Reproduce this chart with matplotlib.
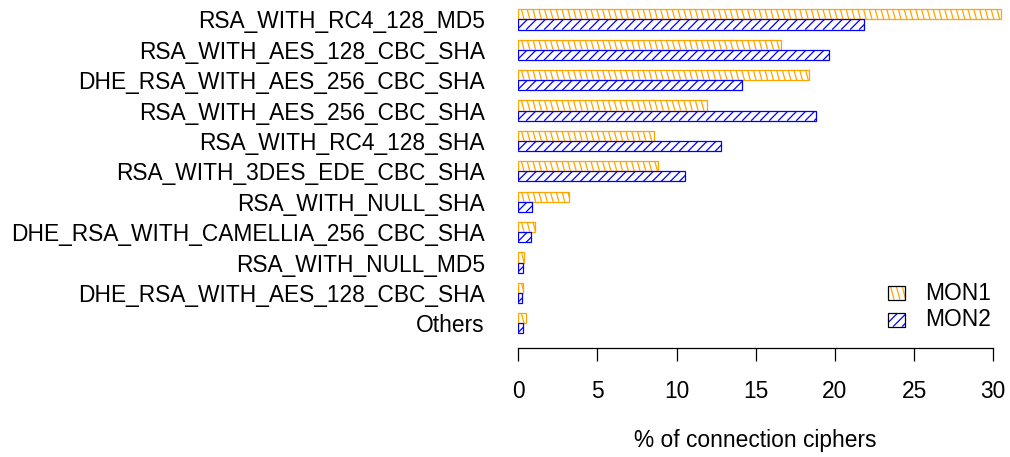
import numpy as np
import matplotlib
matplotlib.use("Agg")
import matplotlib.pyplot as plt
from matplotlib.collections import LineCollection
from matplotlib.patches import Rectangle
from matplotlib.transforms import Bbox, IdentityTransform

plt.rcParams['font.family'] = ['Liberation Sans', 'DejaVu Sans']

ciphers = [
    "RSA_WITH_RC4_128_MD5",
    "RSA_WITH_AES_128_CBC_SHA",
    "DHE_RSA_WITH_AES_256_CBC_SHA",
    "RSA_WITH_AES_256_CBC_SHA",
    "RSA_WITH_RC4_128_SHA",
    "RSA_WITH_3DES_EDE_CBC_SHA",
    "RSA_WITH_NULL_SHA",
    "DHE_RSA_WITH_CAMELLIA_256_CBC_SHA",
    "RSA_WITH_NULL_MD5",
    "DHE_RSA_WITH_AES_128_CBC_SHA",
    "Others",
]
mon1 = [30.5, 16.6, 18.35, 11.9, 8.6, 8.8, 3.2, 1.05, 0.38, 0.32, 0.5]
mon2 = [21.85, 19.65, 14.15, 18.8, 12.8, 10.5, 0.88, 0.78, 0.3, 0.21, 0.32]
series_names = ["MON1", "MON2"]
xticks = [0, 5, 10, 15, 20, 25, 30]

W, H, DPI = 1010, 457, 100
FS = 16.4
fig = plt.figure(figsize=(W / DPI, H / DPI), dpi=DPI)
ax = fig.add_axes([518.3 / W, (H - 347.7) / H, (1005 - 518.3) / W, 347.7 / H])

n = len(ciphers)
centers = np.arange(n) * 3.0
ax.set_xlim(0, (1005 - 518.3) / 15.83)
ax.set_ylim(32.41, -1.92)

styles = [
    dict(color="orange", angle=-75, spacing=5.8),
    dict(color="blue", angle=45, spacing=9.0),
]


def hatch_lines(x0, y0, x1, y1, angle, spacing, color, lw=0.9):
    """Draw parallel lines clipped to a pixel-space box."""
    a = np.deg2rad(angle)
    h = y1 - y0
    dx = h / np.tan(a) if abs(np.tan(a)) > 1e-6 else 0
    segs = []
    start = x0 - abs(dx) - spacing
    xs = np.arange(start, x1 + abs(dx) + spacing, spacing)
    for xb in xs:
        if dx >= 0:
            segs.append([(xb, y0), (xb + dx, y1)])
        else:
            segs.append([(xb - dx, y0), (xb, y1)])
    lc = LineCollection(segs, colors=color, linewidths=lw,
                        transform=IdentityTransform(), zorder=2)
    lc.set_clip_box(Bbox([[x0, y0], [x1, y1]]))
    fig.add_artist(lc)


offsets = [-0.5, 0.5]
for vals, off, st in zip([mon1, mon2], offsets, styles):
    bars = ax.barh(centers + off, vals, height=1.0, facecolor="none",
                   edgecolor=st["color"], linewidth=0.9, zorder=3)
    for b in bars:
        (px0, py0), (px1, py1) = ax.transData.transform(
            [(b.get_x(), b.get_y()), (b.get_x() + b.get_width(), b.get_y() + b.get_height())])
        hatch_lines(min(px0, px1), min(py0, py1), max(px0, px1), max(py0, py1),
                    st["angle"], st["spacing"], st["color"])

# axes styling
for s in ["top", "right", "left"]:
    ax.spines[s].set_visible(False)
ax.spines["bottom"].set_bounds(0, 30)
ax.spines["bottom"].set_linewidth(0.9)
ax.set_xticks(xticks)
ax.set_xticklabels([str(t) for t in xticks], fontsize=FS)
ax.tick_params(axis="x", length=9.6, width=0.9, pad=14)
ax.set_yticks(centers)
ax.set_yticklabels(ciphers, fontsize=FS)
ax.tick_params(axis="y", length=0, pad=24)

fig.text(755.7 / W, 1 - 441 / H, "% of connection ciphers", fontsize=FS,
         ha="center", va="center")

# legend
leg_y = [293, 320]
for name, st, yc in zip(series_names, styles, leg_y):
    x0, x1 = 888.3, 905.0
    y0, y1 = H - yc - 6.6, H - yc + 6.6
    hatch_lines(x0, y0, x1, y1, st["angle"], st["spacing"], st["color"])
    fig.add_artist(Rectangle((x0, y0), x1 - x0, y1 - y0, facecolor="none",
                             edgecolor="black", linewidth=0.9,
                             transform=IdentityTransform(), zorder=4))
    fig.text(925 / W, 1 - yc / H, name, fontsize=FS, ha="left", va="center")

fig.savefig("out.png", dpi=DPI)
